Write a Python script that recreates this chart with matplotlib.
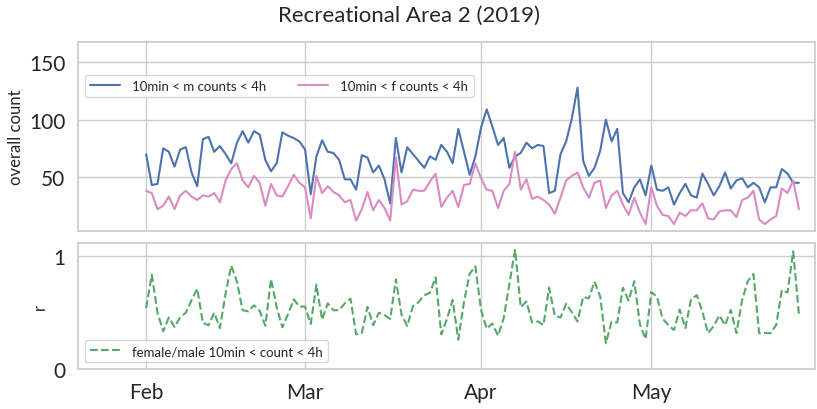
import numpy as np
import pandas as pd
import matplotlib
matplotlib.use("Agg")
import matplotlib.pyplot as plt
import matplotlib.dates as mdates
import seaborn as sns

# daily counts, 2019-02-01 .. 2019-05-27
START = "2019-02-01"
male_counts = [
    70, 43, 44, 75, 72, 59, 74, 76, 54, 42, 83, 85, 72, 77, 70, 62, 80, 90, 80, 90,
    87, 65, 55, 62, 89, 86, 84, 81, 74, 35, 68, 82, 72, 71, 65, 48, 48, 39, 69, 67,
    54, 60, 48, 27, 84, 54, 76, 70, 64, 58, 68, 65, 78, 72, 62, 92, 72, 52, 68, 93,
    109, 94, 78, 84, 58, 68, 71, 80, 75, 78, 77, 36, 38, 70, 81, 101, 128, 64, 51, 58,
    73, 100, 81, 92, 36, 28, 41, 48, 34, 60, 39, 38, 41, 26, 36, 44, 34, 32, 53, 44,
    34, 42, 54, 40, 47, 49, 41, 45, 41, 28, 41, 41, 57, 53, 45, 45,
]
female_counts = [
    38, 36, 22, 25, 33, 22, 34, 38, 33, 30, 34, 33, 36, 28, 47, 57, 62, 47, 41, 51,
    45, 25, 44, 34, 33, 42, 52, 45, 41, 14, 51, 36, 42, 37, 34, 28, 30, 12, 22, 37,
    21, 30, 23, 12, 67, 26, 29, 39, 38, 38, 46, 53, 24, 32, 38, 24, 43, 44, 62, 49,
    39, 38, 23, 38, 44, 72, 39, 48, 31, 33, 30, 26, 18, 32, 47, 51, 54, 41, 32, 45,
    47, 23, 34, 38, 26, 17, 32, 19, 9, 41, 25, 17, 16, 9, 19, 16, 21, 21, 27, 14,
    13, 20, 21, 21, 15, 30, 32, 38, 13, 9, 13, 16, 40, 36, 47, 22,
]

TITLE = "Recreational Area 2 (2019)"
LABEL_M = "10min < m counts < 4h"
LABEL_F = "10min < f counts < 4h"
LABEL_R = "female/male 10min < count < 4h"

dates = pd.date_range(START, periods=len(male_counts), freq="D")
m = np.array(male_counts, dtype=float)
f = np.array(female_counts, dtype=float)
ratio = f / m

sns.set_theme(style="whitegrid")
plt.rcParams["font.family"] = ["Lato", "DejaVu Sans"]

fig = plt.figure(figsize=(8.17, 4.10), dpi=100)
ax1 = fig.add_axes([0.0955, 0.4334, 0.902, 0.4626])
ax2 = fig.add_axes([0.0955, 0.0976, 0.902, 0.3074], sharex=ax1)

legend_kw = dict(fontsize=9.5, handlelength=2.3, handletextpad=0.9, frameon=True)

ax1.plot(dates, m, color="#4C72B0", lw=1.5, label=LABEL_M)
ax1.plot(dates, f, color="#DA8BC3", lw=1.5, label=LABEL_F)
ax1.set_ylim(2.7, 168)
ax1.set_yticks([50, 100, 150])
ax1.set_ylabel("overall count", fontsize=12)
ax1.legend(loc="upper left", ncol=2, bbox_to_anchor=(0.0, 0.86),
           columnspacing=2.4, **legend_kw)
ax1.tick_params(axis="x", labelbottom=False)
ax1.tick_params(axis="y", labelsize=15, pad=3)

ax2.plot(dates, ratio, color="#55A868", lw=1.5, ls="--", label=LABEL_R)
ax2.set_ylim(0, 1.12)
ax2.set_yticks([0, 1])
ax2.set_ylabel("r", fontsize=12)
ax2.legend(loc="lower left", **legend_kw)
ax2.tick_params(axis="y", labelsize=15, pad=3)
ax2.tick_params(axis="x", labelsize=15)

ax2.set_xlim(pd.Timestamp("2019-01-20"), pd.Timestamp("2019-05-29 20:00"))
ax2.xaxis.set_major_locator(mdates.MonthLocator())
ax2.xaxis.set_major_formatter(mdates.DateFormatter("%b"))

fig.suptitle(TITLE, fontsize=16, y=0.985)
fig.savefig("out.png", dpi=100)
